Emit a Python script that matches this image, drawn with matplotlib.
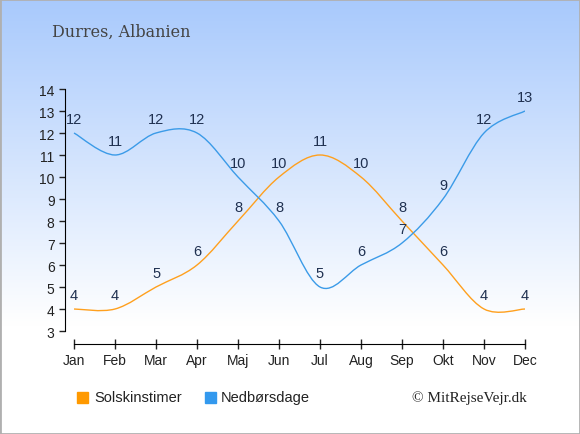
import numpy as np
import matplotlib.pyplot as plt
from matplotlib.path import Path
from matplotlib.patches import PathPatch, Rectangle

plt.rcParams['font.family'] = ['Liberation Sans', 'DejaVu Sans']

months = ['Jan', 'Feb', 'Mar', 'Apr', 'Maj', 'Jun', 'Jul', 'Aug', 'Sep', 'Okt', 'Nov', 'Dec']
sol = [4, 4, 5, 6, 8, 10, 11, 10, 8, 6, 4, 4]
ned = [12, 11, 12, 12, 10, 8, 5, 6, 7, 9, 12, 13]

orange = '#ffa01e'
blue = '#3b9be8'
lab_col = '#1f3050'


def smooth_path(xs, ys, t=0.5):
    # cardinal spline through the points, drawn as bezier segments
    pts = np.column_stack([xs, ys]).astype(float)
    verts = [pts[0]]
    codes = [Path.MOVETO]
    n = len(pts)
    for i in range(n - 1):
        p0 = pts[i - 1] if i > 0 else pts[i]
        p1 = pts[i]
        p2 = pts[i + 1]
        p3 = pts[i + 2] if i + 2 < n else pts[i + 1]
        c1 = p1 + (p2 - p0) * t / 3
        c2 = p2 - (p3 - p1) * t / 3
        verts += [c1, c2, p2]
        codes += [Path.CURVE4] * 3
    return Path(verts, codes)


fig = plt.figure(figsize=(5.8, 4.35), dpi=100)

# background gradient
bg = fig.add_axes([0, 0, 1, 1], zorder=-10)
grad = np.linspace(0, 1, 256)
top = np.array([0.66, 0.79, 0.99])
col = np.clip(grad[:, None] / 0.75, 0, 1)
img = top + (1 - top) * col
bg.imshow(img[:, None, :], aspect='auto', extent=[0, 1, 0, 1])
bg.set_axis_off()
bg.add_patch(Rectangle((0, 0), 1, 1, transform=bg.transAxes, fill=False,
                       edgecolor='#b0b0b0', lw=2))

ax = fig.add_axes([65 / 580, 1 - 332 / 435, 460 / 580, 242 / 435])
ax.set_facecolor('none')
x = np.arange(12)
ax.add_patch(PathPatch(smooth_path(x, sol), fill=False, edgecolor=orange, lw=1))
ax.add_patch(PathPatch(smooth_path(x, ned), fill=False, edgecolor=blue, lw=1))

for i in range(12):
    ax.text(x[i], sol[i] + 0.3, str(sol[i]), ha='center', va='bottom',
            fontsize=10.5, color=lab_col, clip_on=False)
    ax.text(x[i], ned[i] + 0.3, str(ned[i]), ha='center', va='bottom',
            fontsize=10.5, color=lab_col, clip_on=False)

ax.set_xlim(-0.22, 11)
ax.set_ylim(3, 14)
ax.set_xticks(x)
ax.set_xticklabels(months)
ax.set_yticks(range(3, 15))
for s in ['top', 'right']:
    ax.spines[s].set_visible(False)
ax.spines['bottom'].set_position(('outward', 9))
ax.spines['bottom'].set_bounds(0, 11)
ax.tick_params(axis='both', labelsize=10, length=4, width=1, colors='#222222')
ax.tick_params(axis='x', direction='inout', length=7, pad=3)

fig.text(52 / 580, 1 - 32 / 435, 'Durres, Albanien', fontsize=11.5,
         family='DejaVu Serif', color='#444444', va='center')

# legend
fig.patches.append(Rectangle((77 / 580, 1 - 404 / 435), 11 / 580, 11 / 435,
                             transform=fig.transFigure, color='#ff9900'))
fig.text(94 / 580, 1 - 398 / 435, 'Solskinstimer', fontsize=10.5, va='center', color='#222222')
fig.patches.append(Rectangle((205 / 580, 1 - 404 / 435), 11 / 580, 11 / 435,
                             transform=fig.transFigure, color='#3399ee'))
fig.text(221 / 580, 1 - 398 / 435, 'Nedbørsdage', fontsize=10.5, va='center', color='#222222')
fig.text(527 / 580, 1 - 398 / 435, '© MitRejseVejr.dk', fontsize=11, ha='right',
         va='center', family='Liberation Serif', color='#222222')

fig.savefig('out.png', dpi=100)
